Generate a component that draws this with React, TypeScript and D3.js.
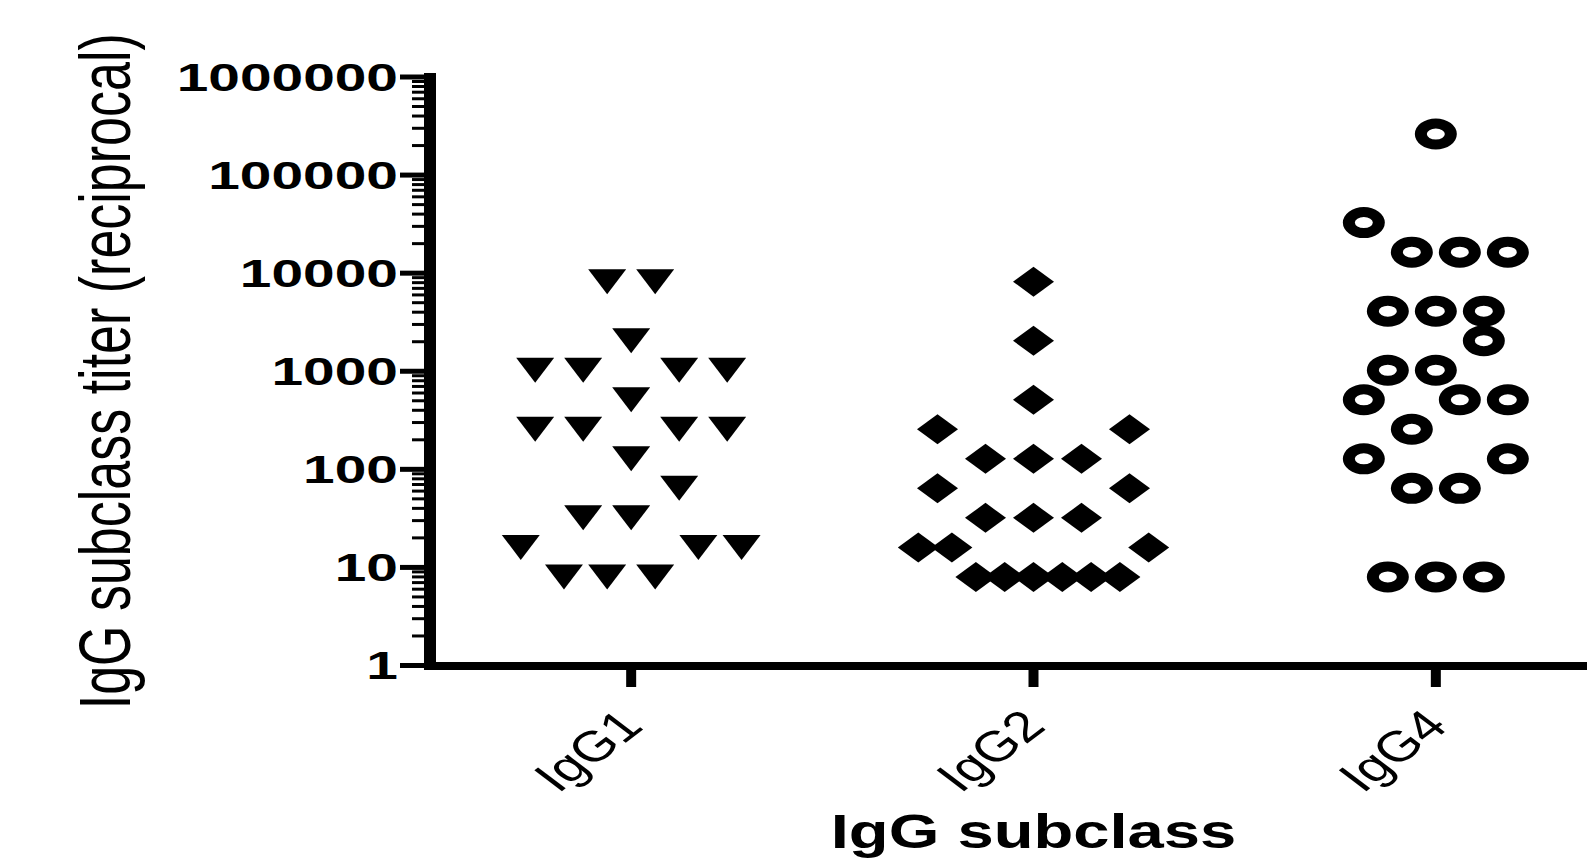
import * as d3 from "d3";
import { useEffect, useRef } from "react";

// categories on the x axis
const categories = ["IgG1", "IgG2", "IgG4"];

// titers (reciprocal) per subclass, with the horizontal slot of each point in its column
const igg1Titers = [8192, 8192, 2048, 1024, 1024, 1024, 1024, 512, 256, 256, 256, 256, 128, 64, 32, 32, 16, 16, 16, 8, 8, 8];
const igg1Slots = [-0.5, 0.5, 0, -2, -1, 1, 2, 0, -2, -1, 1, 2, 0, 1, -1, 0, -2.3, 1.4, 2.3, -1.4, -0.5, 0.5];

const igg2Titers = [8192, 2048, 512, 256, 256, 128, 128, 128, 64, 64, 32, 32, 32, 16, 16, 16, 8, 8, 8, 8, 8, 8];
const igg2Slots = [0, 0, 0, -2, 2, -1, 0, 1, -2, 2, -1, 0, 1, -2.4, -1.7, 2.4, -1.2, -0.6, 0, 0.6, 1.2, 1.8];

const igg4Titers = [262144, 32768, 16384, 16384, 16384, 4096, 4096, 4096, 2048, 1024, 1024, 512, 512, 512, 256, 128, 128, 64, 64, 8, 8, 8];
const igg4Slots = [0, -1.5, -0.5, 0.5, 1.5, -1, 0, 1, 1, -1, 0, -1.5, 0.5, 1.5, -0.5, -1.5, 1.5, -0.5, 0.5, -1, 0, 1];

const yTicks = [1, 10, 100, 1000, 10000, 100000, 1000000];
const yTickLabels = ["1", "10", "100", "1000", "10000", "100000", "1000000"];

const width = 1587;
const height = 865;
const font = "'Liberation Sans', Arial, Helvetica, sans-serif";

const ellipse = (rx, ry) =>
  `M${-rx},0A${rx},${ry} 0 1,0 ${rx},0A${rx},${ry} 0 1,0 ${-rx},0Z`;

const shapes = {
  triangle: `M-19,-12.5L19,-12.5L0,12.5Z`,
  diamond: `M0,-15L20.5,0L0,15L-20.5,0Z`,
  ring: ellipse(21, 15.5) + ellipse(9, 5.5)
};

const series = [
  { name: "IgG1", titers: igg1Titers, slots: igg1Slots, shape: "triangle" },
  { name: "IgG2", titers: igg2Titers, slots: igg2Slots, shape: "diamond" },
  { name: "IgG4", titers: igg4Titers, slots: igg4Slots, shape: "ring" }
];

const drawChart = (node) => {
  const svg = d3.select(node);
  svg.selectAll("*").remove();

  const x = d3.scaleBand().domain(categories).range([430, 1637]);
  const y = d3.scaleLog().domain([1, 1e6]).range([665.5, 77]);
  const slot = d3.scaleLinear().domain([0, 1]).range([0, 48]);
  const cx = (c) => x(c) + x.bandwidth() / 2;

  svg.append("rect").attr("width", width).attr("height", height).attr("fill", "#fff");

  // minor ticks on the log axis
  const minor = [];
  yTicks.slice(0, -1).forEach((d) => {
    for (let k = 2; k <= 9; k++) minor.push(d * k);
  });
  svg
    .append("g")
    .attr("stroke", "#000")
    .attr("stroke-width", 3)
    .selectAll("line")
    .data(minor)
    .join("line")
    .attr("x1", 412)
    .attr("x2", 426)
    .attr("y1", (d) => y(d))
    .attr("y2", (d) => y(d));

  // major ticks
  svg
    .append("g")
    .attr("stroke", "#000")
    .attr("stroke-width", 5)
    .selectAll("line")
    .data(yTicks)
    .join("line")
    .attr("x1", 400)
    .attr("x2", 426)
    .attr("y1", (d) => y(d))
    .attr("y2", (d) => y(d));

  // y axis line
  svg
    .append("line")
    .attr("x1", 430)
    .attr("x2", 430)
    .attr("y1", 73)
    .attr("y2", 670)
    .attr("stroke", "#000")
    .attr("stroke-width", 12);

  // x axis line
  svg
    .append("line")
    .attr("x1", 424)
    .attr("x2", width)
    .attr("y1", 666)
    .attr("y2", 666)
    .attr("stroke", "#000")
    .attr("stroke-width", 8);

  // category ticks
  svg
    .append("g")
    .attr("stroke", "#000")
    .attr("stroke-width", 10)
    .selectAll("line")
    .data(categories)
    .join("line")
    .attr("x1", cx)
    .attr("x2", cx)
    .attr("y1", 668)
    .attr("y2", 687);

  // y tick labels
  svg
    .append("g")
    .attr("font-family", font)
    .attr("font-weight", "bold")
    .attr("font-size", 39.5)
    .attr("text-anchor", "end")
    .selectAll("text")
    .data(yTicks)
    .join("text")
    .attr("transform", (d) => `translate(398,${y(d) + 13.5}) scale(1.44,1)`)
    .text((d, i) => yTickLabels[i]);

  // category labels
  svg
    .append("g")
    .attr("font-family", font)
    .attr("font-size", 43)
    .attr("text-anchor", "end")
    .selectAll("text")
    .data(categories)
    .join("text")
    .attr("transform", (d) => `translate(${cx(d) + 14},728) scale(1.32,1) rotate(-45)`)
    .text((d) => d);

  // axis titles
  svg
    .append("text")
    .attr("font-family", font)
    .attr("font-weight", "bold")
    .attr("font-size", 49)
    .attr("text-anchor", "middle")
    .attr("transform", `translate(${cx("IgG2")},848) scale(1.33,1)`)
    .text("IgG subclass");

  svg
    .append("text")
    .attr("font-family", font)
    .attr("font-size", 52)
    .attr("text-anchor", "middle")
    .attr("transform", `translate(130,${(y(1) + y(1e6)) / 2}) scale(1.4,1) rotate(-90)`)
    .text("IgG subclass titer (reciprocal)");

  // points
  series.forEach((s) => {
    svg
      .append("g")
      .attr("fill", "#000")
      .attr("fill-rule", "evenodd")
      .selectAll("path")
      .data(s.titers.map((t, i) => ({ t, slot: s.slots[i] })))
      .join("path")
      .attr("d", shapes[s.shape])
      .attr("transform", (d) => `translate(${cx(s.name) + slot(d.slot)},${y(d.t)})`);
  });
};

export default function App() {
  const ref = useRef(null);

  useEffect(() => {
    document.body.style.margin = "0";
    drawChart(ref.current);
  }, []);

  return (
    <svg
      ref={ref}
      width={width}
      height={height}
      viewBox={`0 0 ${width} ${height}`}
      style={{ display: "block" }}
    />
  );
}
